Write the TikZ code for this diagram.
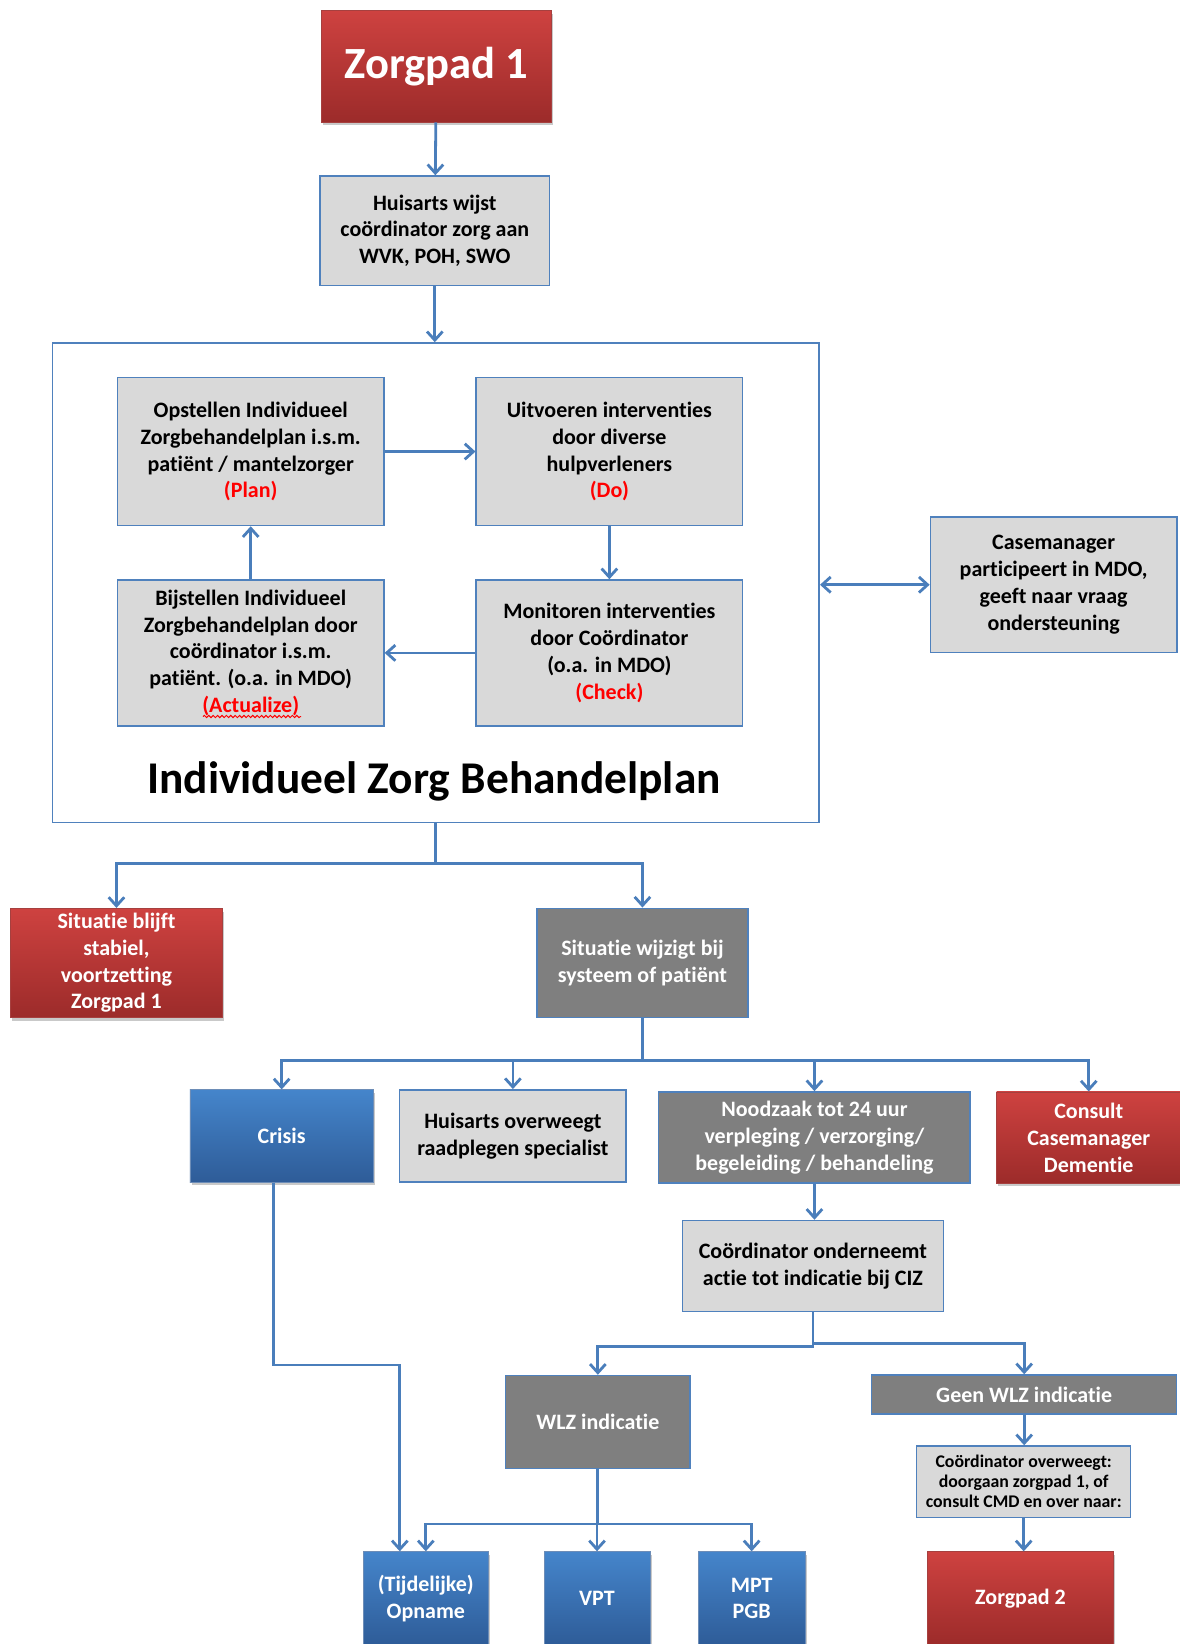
\documentclass[tikz,border=0pt]{standalone}
\usepackage{fontspec}
\setmainfont{Carlito}[Ligatures={NoCommon,NoContextual,NoRequired},RawFeature={-liga;-calt;-clig;-dlig}]
\usetikzlibrary{arrows.meta,shadows,decorations.pathmorphing}
\definecolor{lnblue}{HTML}{4A7EBB}
\definecolor{bordblue}{HTML}{4F81BD}
\definecolor{boxgrey}{HTML}{D9D9D9}
\definecolor{darkgrey}{HTML}{7F7F7F}
\definecolor{redtop}{HTML}{CE4240}
\definecolor{redbot}{HTML}{9C2B2A}
\definecolor{bluetop}{HTML}{4585CB}
\definecolor{bluebot}{HTML}{2E5C98}
\definecolor{pdcared}{HTML}{FF0000}
\newcommand\mybox[6]{\node[#1,minimum width={(#4-#2)*0.5pt},minimum height={(#5-#3)*0.5pt}] (#6) at ({(#2+#4)/2},{(#3+#5)/2})}
\tikzset{
  base/.style={inner sep=0pt, align=center, font=\bfseries\fontsize{11}{13.4}\selectfont},
  greybox/.style={base, fill=boxgrey, draw=bordblue, line width=0.75pt, text=black},
  darkbox/.style={base, fill=darkgrey, draw=bordblue, line width=0.75pt, text=white},
  shad/.style={drop shadow={opacity=0.35, shadow xshift=0.8pt, shadow yshift=-1.6pt, fill=black!60}},
  redbox/.style={base, shad, top color=redtop, bottom color=redbot, draw=redbot!90!white, line width=0.4pt, text=white},
  bluebox/.style={base, shad, top color=bluetop, bottom color=bluebot, draw=bluebot!70!white, line width=0.4pt, text=white},
  contbox/.style={draw=bordblue, line width=0.8pt, fill=white, inner sep=0pt},
  tip/.tip={Straight Barb[length=4.3pt,width=7.8pt,line width=1.4pt]},
  conn/.style={draw=lnblue, line width=1.4pt, -tip},
  conntwo/.style={draw=lnblue, line width=1.4pt, tip-tip},
  smallfont/.style={font=\bfseries\fontsize{8.9}{10}\selectfont},
}
\begin{document}
\begin{tikzpicture}[x=0.5pt,y=-0.5pt]
\useasboundingbox[fill=white] (0,0) rectangle (1179,1644);

\mybox{redbox,font=\bfseries\fontsize{22.3}{26}\selectfont}{321}{10.5}{551.7}{122}{z1} {Zorgpad 1};
\mybox{greybox}{320}{176}{549.6}{285.3}{ha} {Huisarts wijst\\coördinator zorg aan\\WVK, POH, SWO};

\mybox{contbox}{52.4}{343}{819.2}{822.3}{cont} {};
\mybox{greybox}{117.5}{377.6}{383.9}{525.5}{op} {Opstellen Individueel\\Zorgbehandelplan i.s.m.\\patiënt / mantelzorger\\\textcolor{pdcared}{(Plan)}};
\mybox{greybox}{476.2}{377.6}{742.6}{525.5}{ui} {Uitvoeren interventies\\door diverse\\hulpverleners\\\textcolor{pdcared}{(Do)}};
\mybox{greybox}{117.5}{580}{383.9}{725.8}{bij} {Bijstellen Individueel\\Zorgbehandelplan door\\coördinator i.s.m.\\patiënt. (o.a. in MDO)\\\textcolor{pdcared}{(Actualize)}};
\mybox{greybox}{476.2}{580}{742.6}{725.8}{mon} {Monitoren interventies\\door Coördinator\\(o.a. in MDO)\\\textcolor{pdcared}{(Check)}};
\node[font=\bfseries\fontsize{22.7}{27}\selectfont, inner sep=0pt] (title) at (434,781) {Individueel Zorg Behandelplan};
\draw[pdcared, line width=0.5pt, decorate, decoration={snake,amplitude=0.55pt,segment length=2.2pt}] (203,716.5) -- (301,716.5);

\mybox{greybox}{930.4}{517.1}{1176.9}{652.4}{cm} {Casemanager\\participeert in MDO,\\geeft naar vraag\\ondersteuning};

\mybox{redbox}{10.5}{908.3}{222.4}{1017.4}{stab} {Situatie blijft\\stabiel,\\voortzetting\\Zorgpad 1};
\mybox{darkbox}{537}{908.3}{747.9}{1017.4}{wijz} {Situatie wijzigt bij\\systeem of patiënt};

\mybox{bluebox}{189.9}{1089.8}{373.4}{1182.1}{crisis} {Crisis};
\mybox{greybox}{399.6}{1089.8}{626.2}{1182.1}{hov} {Huisarts overweegt\\raadplegen specialist};
\mybox{darkbox}{658.7}{1091.9}{970.2}{1183.2}{nood} {Noodzaak tot 24 uur\\verpleging / verzorging/\\begeleiding / behandeling};
\mybox{redbox}{996.5}{1091.9}{1181}{1183.2}{cons} {Consult\\Casemanager\\Dementie};

\mybox{greybox}{682.5}{1220.5}{943.3}{1311.7}{coo} {Coördinator onderneemt\\actie tot indicatie bij CIZ};
\mybox{darkbox}{505.7}{1375.5}{690}{1468.3}{wlz} {WLZ indicatie};
\mybox{darkbox}{871.7}{1375}{1176.7}{1414}{geen} {Geen WLZ indicatie};
\mybox{greybox,smallfont}{916.7}{1446}{1130.7}{1517.3}{cov} {Coördinator overweegt:\\doorgaan zorgpad 1, of\\consult CMD en over naar:};

\mybox{bluebox}{363.3}{1551.7}{488.3}{1645}{opn} {(Tijdelijke)\\Opname};
\mybox{bluebox}{544}{1551.7}{650}{1645}{vpt} {VPT};
\mybox{bluebox}{698.3}{1551.7}{805}{1645}{mpt} {MPT\\PGB};
\mybox{redbox}{927.7}{1551.7}{1113.3}{1645}{z2} {Zorgpad 2};

% connectors
\draw[conn] (z1) -- (ha);
\draw[conn] (ha.south) -- (ha.south |- cont.north);
\draw[conn] (op) -- (ui);
\draw[conn] (ui) -- (mon);
\draw[conn] (mon) -- (bij);
\draw[conn] (bij) -- (op);
\draw[conntwo] (cont.east |- cm.west) -- (cm.west);
\draw[conn] (cont.south) -- ++(0,40) -| (stab.north);
\draw[conn] (cont.south) -- ++(0,40) -| (wijz.north);
\foreach \t in {crisis,hov,nood,cons} \draw[conn] (wijz.south) -- ++(0,42) -| (\t.north);
\draw[conn] (nood.south) -- (nood.south |- coo.north);
\draw[conn] (coo.south) -- ++(0,34) -| (wlz.north);
\draw[conn] (coo.south) -- ++(0,31) -| (geen.north);
\draw[conn] (geen.south) -- (geen.south |- cov.north);
\draw[conn] (cov.south) -- (cov.south |- z2.north);
\foreach \t in {opn,vpt,mpt} \draw[conn] (wlz.south) -- ++(0,55) -| (\t.north);
\draw[conn] ([xshift=-4pt]crisis.south) -- ++(0,182.5) -| ([xshift=-13pt]opn.north);
\end{tikzpicture}
\end{document}
